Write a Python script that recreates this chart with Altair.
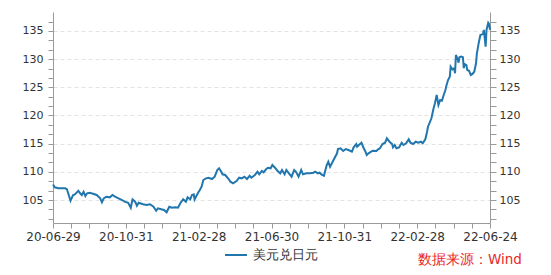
import altair as alt
import pandas as pd

# trading-day index (0 = 2020-06-29, 500 = 2022-06-24)
DAY = [0, 2, 6, 14, 16, 18, 20, 23, 25, 29, 31, 33, 35, 37, 39, 42, 44, 50, 54, 56,
       58, 61, 65, 68, 71, 75, 79, 82, 86, 89, 91, 94, 96, 98, 103, 107, 111, 115, 118, 120,
       124, 127, 130, 133, 136, 140, 143, 146, 149, 152, 154, 157, 159, 161, 162, 166, 168, 170, 172, 175,
       178, 182, 185, 188, 190, 192, 194, 197, 201, 203, 206, 210, 213, 216, 219, 222, 225, 227, 231, 234,
       236, 239, 241, 244, 246, 249, 251, 254, 257, 260, 262, 265, 267, 270, 273, 276, 278, 281, 284, 286,
       290, 294, 298, 300, 303, 305, 307, 310, 313, 315, 317, 320, 322, 325, 326, 329, 332, 335, 338, 342,
       344, 347, 348, 350, 353, 355, 357, 359, 361, 364, 366, 370, 372, 374, 377, 380, 382, 385, 388, 389,
       391, 393, 396, 399, 401, 404, 407, 409, 412, 415, 418, 421, 423, 426, 428, 429, 431, 433, 435, 437,
       439, 441, 443, 445, 447, 449, 450, 452, 454, 455, 457, 459, 460, 461, 463, 464, 465, 467, 469, 470,
       471, 473, 474, 476, 478, 480, 482, 484, 485, 487, 489, 491, 492, 493, 495, 496, 498, 499, 500]

USDJPY = [107.75, 107.25, 107.08, 107.08, 106.90, 105.89, 104.88, 105.89, 106.01, 106.65,
          106.19, 105.89, 106.47, 105.71, 106.19, 106.30, 106.19, 105.89, 105.30, 104.59,
          105.30, 105.59, 105.48, 105.89, 105.59, 105.30, 105.00, 104.70, 104.52, 103.63,
          105.12, 104.70, 103.99, 104.52, 104.24, 104.11, 104.24, 103.81, 103.10, 103.53,
          103.35, 103.23, 102.82, 103.81, 103.63, 103.70, 103.63, 104.52, 105.12, 104.70,
          105.48, 105.12, 105.89, 106.01, 105.12, 106.30, 106.78, 107.36, 108.55, 108.85,
          108.96, 108.73, 109.14, 110.33, 110.63, 110.15, 109.56, 109.44, 108.73, 108.25,
          107.96, 108.37, 108.96, 108.85, 109.14, 108.73, 109.31, 108.96, 109.44, 110.02,
          109.56, 110.15, 109.92, 110.50, 110.73, 110.63, 111.21, 110.73, 110.15, 109.74,
          110.33, 109.56, 110.33, 109.74, 109.14, 110.33, 110.02, 109.14, 110.33, 109.56,
          109.74, 109.74, 109.85, 110.02, 109.74, 109.85, 109.56, 109.31, 111.09, 111.80,
          110.91, 111.80, 112.40, 113.29, 114.05, 114.18, 113.70, 114.05, 113.88, 113.57,
          114.35, 114.94, 114.46, 114.76, 115.17, 114.35, 113.75, 112.99, 113.29, 113.57,
          113.75, 113.70, 114.00, 114.18, 114.94, 115.17, 115.95, 115.35, 114.94, 114.35,
          114.76, 114.18, 114.35, 115.17, 114.76, 115.06, 115.77, 115.17, 114.94, 115.35,
          115.17, 115.35, 115.06, 115.77, 117.12, 118.01, 118.72, 119.50, 120.98, 122.16,
          123.64, 121.86, 122.75, 122.63, 123.64, 124.53, 125.24, 126.30, 126.89, 128.66,
          128.20, 128.38, 127.49, 130.74, 129.97, 129.37, 130.33, 130.44, 130.33, 128.38,
          129.14, 128.96, 128.08, 127.95, 127.19, 127.37, 127.77, 129.26, 131.04, 132.81,
          134.29, 134.41, 134.47, 135.18, 132.21, 135.18, 136.47, 136.24, 135.18]

SERIES = "美元兑日元"
X_LABELS = ["20-06-29", "20-10-31", "21-02-28", "21-06-30", "21-10-31", "22-02-28", "22-06-24"]
Y_DOMAIN = [100.92, 138.37]
SOURCE = "数据来源：Wind"

df = pd.DataFrame({"day": DAY, "rate": USDJPY, "series": SERIES})
src_df = pd.DataFrame({"src": [SOURCE]})

FONT = "DejaVu Sans"
AXIS_GRAY = "#9a9a9a"
LABEL = "#333333"
LINE = "#2176ae"

x_ticks = [k * 500 / 24 for k in range(25)]
y_ticks = [100 + 5 * k / 3 for k in range(1, 23)]
major = "abs(datum.value/5 - round(datum.value/5)) < 0.01"
lbl_arr = "[" + ",".join(f"'{s}'" for s in X_LABELS) + "]"
x_expr = f"(round(datum.value*24/500) % 4 == 0) ? {lbl_arr}[round(datum.value*24/500)/4] : ''"
y_expr = f"{major} ? format(round(datum.value), 'd') : ''"

x_enc = alt.X(
    "day:Q",
    scale=alt.Scale(domain=[0, 500], nice=False, zero=False),
    axis=alt.Axis(values=x_ticks, labelExpr=x_expr, title=None, grid=False,
                  tickSize=5, tickColor=AXIS_GRAY, domainColor=AXIS_GRAY,
                  labelColor=LABEL, labelFontSize=12, labelFont=FONT,
                  labelPadding=3, labelOverlap=False, labelFlush=False, labelBound=False),
)
y_scale = alt.Scale(domain=Y_DOMAIN, nice=False, zero=False)

left = alt.Chart(df).mark_line(strokeWidth=2).encode(
    x=x_enc,
    y=alt.Y("rate:Q", scale=y_scale,
            axis=alt.Axis(orient="left", values=y_ticks, labelExpr=y_expr, title=None,
                          grid=True, gridDash=[4, 3], gridColor="#e3e3e3",
                          gridOpacity={"condition": {"test": major, "value": 1}, "value": 0},
                          tickSize=5, tickColor=AXIS_GRAY, domainColor=AXIS_GRAY,
                          labelColor=LABEL, labelFontSize=11, labelFont=FONT,
                          labelPadding=5, labelOverlap=False, labelFlush=False)),
    color=alt.Color("series:N", scale=alt.Scale(range=[LINE]),
                    legend=alt.Legend(orient="none", legendX=171, legendY=231, title=None,
                                      symbolType="stroke", symbolSize=484, symbolStrokeWidth=2,
                                      labelFont=FONT, labelFontSize=12.5, labelColor=LABEL,
                                      labelOffset=5, padding=0)),
)

right = alt.Chart(df).mark_line(strokeOpacity=0).encode(
    x=x_enc,
    y=alt.Y("rate:Q", scale=y_scale,
            axis=alt.Axis(orient="right", values=y_ticks, labelExpr=y_expr, title=None,
                          grid=False, tickSize=6, tickColor=AXIS_GRAY, domainColor=AXIS_GRAY,
                          labelColor=LABEL, labelFontSize=11, labelFont=FONT,
                          labelPadding=3, labelOverlap=False, labelFlush=False)),
)

source = alt.Chart(src_df).mark_text(align="left", baseline="middle", color="#e8262a",
                                      fontSize=13.5, font=FONT).encode(
    x=alt.value(365), y=alt.value(248), text="src:N")

chart = alt.layer(left, right, source).resolve_axis(y="independent").properties(
    width=437, height=211,
    autosize=alt.AutoSizeParams(type="none"),
    padding={"left": 53, "top": 12, "right": 61, "bottom": 52},
    background="white",
).configure_view(stroke=None)

chart.save("out.html", embed_options={"renderer": "svg", "actions": False})
